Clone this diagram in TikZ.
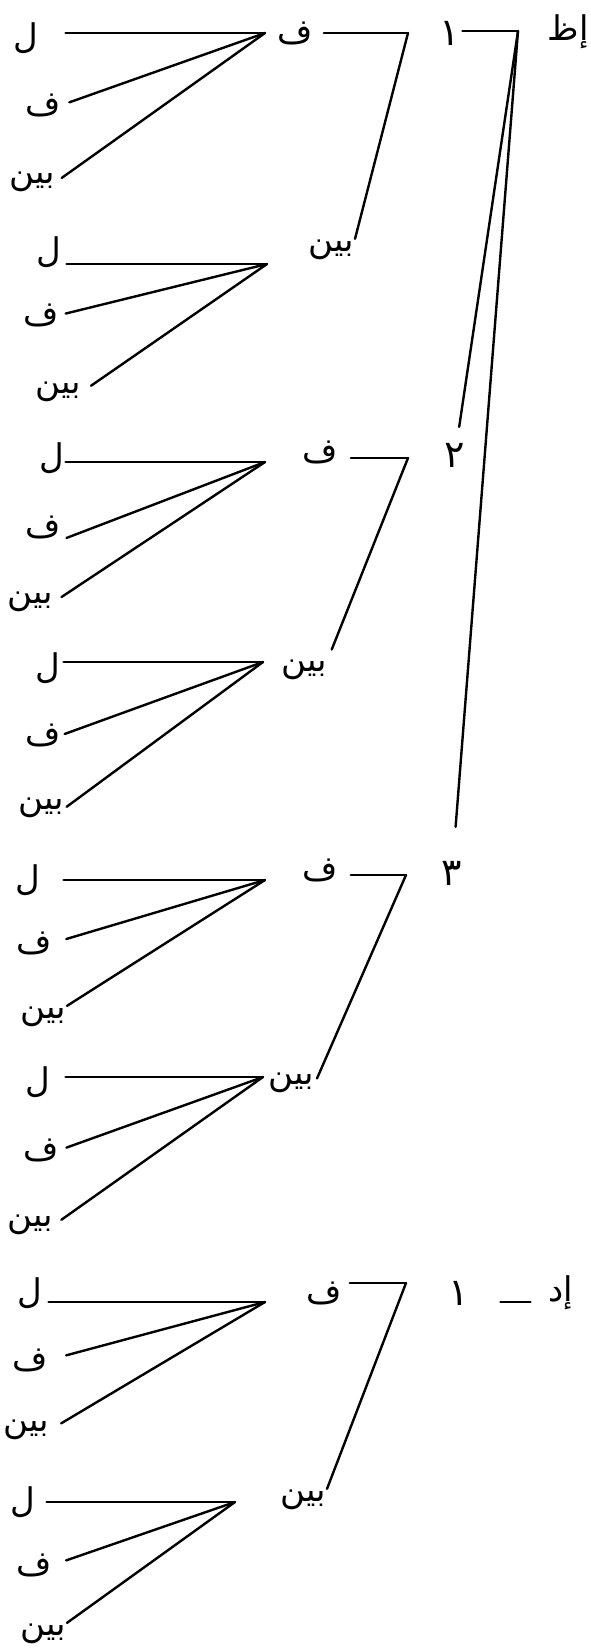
\documentclass[tikz,border=0pt]{standalone}
\usepackage{fontspec}
\newfontfamily\arabicfont[Script=Arabic]{DejaVu Sans}
\TeXXeTstate=1
\newcommand\ar[1]{\beginR#1\endR}
\tikzset{
  lab/.style={font=\arabicfont\fontsize{34}{38}\selectfont, inner sep=1pt},
  num/.style={font=\arabicfont\fontsize{38}{42}\selectfont, inner sep=1pt},
  ln/.style={line width=2.4pt, line cap=round, line join=round}
}
\begin{document}
\begin{tikzpicture}[x=1pt,y=-1pt]
\useasboundingbox (0,0) rectangle (590,1652);
% ---------- top level labels ----------
\node[lab] (E1) at (568,32) {\ar{إظ}};
\node[num] (N1) at (450,33) {\ar{١}};
\node[num] (N2) at (455,455) {\ar{٢}};
\node[num] (N3) at (452,873) {\ar{٣}};
\coordinate (c1) at (518,31);
\draw[ln, shorten <=1pt] (N1.east |- c1) -- (c1);
\draw[ln, shorten >=15pt] (c1) -- (N2);
\draw[ln, shorten >=33pt] (c1) -- (N3);

\node[num] (N4) at (459,1293) {\ar{١}};
\node[lab] (E4) at (561,1293) {\ar{إد}};
\draw[ln, shorten <=30pt, shorten >=17pt] ([yshift=-9pt]N4.east) -- ([yshift=-9pt]E4.west);

% ---------- group 1 ----------
\node[lab] (F1) at (295,33) {\ar{ف}};
\node[lab] (B1) at (331,250) {\ar{بين}};
\coordinate (k1) at (408,33);
\draw[ln, shorten <=10pt] (F1.east |- k1) -- (k1);
\draw[ln] (k1) -- (B1.north east);

\coordinate (j1a) at (265,33);
\node[lab] (L1a) at (26,38) {\ar{ل}};
\node[lab] (F1a) at (43,105) {\ar{ف}};
\node[lab] (B1a) at (32,182) {\ar{بين}};
\draw[ln, shorten <=26pt] (L1a.east |- j1a) -- (j1a);
\draw[ln, shorten <=8pt] (F1a.east) -- (j1a);
\draw[ln, shorten <=7pt] (B1a.east) -- (j1a);

\coordinate (j1b) at (267,264);
\node[lab] (L1b) at (49,252) {\ar{ل}};
\node[lab] (F1b) at (41,315) {\ar{ف}};
\node[lab] (B1b) at (58,392) {\ar{بين}};
\draw[ln, shorten <=4pt] (L1b.east |- j1b) -- (j1b);
\draw[ln, shorten <=6pt] (F1b.east) -- (j1b);
\draw[ln, shorten <=11pt] (B1b.east) -- (j1b);

% ---------- group 2 ----------
\node[lab] (F2) at (320,452) {\ar{ف}};
\node[lab] (B2) at (304,670) {\ar{بين}};
\coordinate (k2) at (408,458);
\draw[ln, shorten <=12pt] (F2.east |- k2) -- (k2);
\draw[ln, shorten >=10pt] (k2) -- (B2.north east);

\coordinate (j2a) at (265,462);
\node[lab] (L2a) at (52,458) {\ar{ل}};
\node[lab] (F2a) at (43,527) {\ar{ف}};
\node[lab] (B2a) at (30,602) {\ar{بين}};
\draw[ln] (L2a.east |- j2a) -- (j2a);
\draw[ln, shorten <=5pt] (F2a.south east) -- (j2a);
\draw[ln, shorten <=9pt] (B2a.east) -- (j2a);

\coordinate (j2b) at (263,662);
\node[lab] (L2b) at (48,668) {\ar{ل}};
\node[lab] (F2b) at (43,735) {\ar{ف}};
\node[lab] (B2b) at (41,808) {\ar{بين}};
\draw[ln, shorten <=2pt] (L2b.east |- j2b) -- (j2b);
\draw[ln, shorten <=3pt] (F2b.east) -- (j2b);
\draw[ln, shorten <=2pt] (B2b.east) -- (j2b);

% ---------- group 3 ----------
\node[lab] (F3) at (320,870) {\ar{ف}};
\node[lab] (B3) at (291,1083) {\ar{بين}};
\coordinate (k3) at (406,875);
\draw[ln, shorten <=12pt] (F3.east |- k3) -- (k3);
\draw[ln, shorten >=5pt] (k3) -- (B3.east);

\coordinate (j3a) at (265,880);
\node[lab] (L3a) at (28,880) {\ar{ل}};
\node[lab] (F3a) at (34,943) {\ar{ف}};
\node[lab] (B3a) at (43,1017) {\ar{بين}};
\draw[ln, shorten <=22pt] (L3a.east |- j3a) -- (j3a);
\draw[ln, shorten <=14pt] (F3a.east) -- (j3a);
\draw[ln] (B3a.north east) -- (j3a);

\coordinate (j3b) at (263,1077);
\node[lab] (L3b) at (38,1082) {\ar{ل}};
\node[lab] (F3b) at (41,1150) {\ar{ف}};
\node[lab] (B3b) at (30,1225) {\ar{بين}};
\draw[ln, shorten <=14pt] (L3b.east |- j3b) -- (j3b);
\draw[ln, shorten <=7pt] (F3b.east) -- (j3b);
\draw[ln, shorten <=9pt] (B3b.east) -- (j3b);

% ---------- group 4 ----------
\node[lab] (F4) at (324,1293) {\ar{ف}};
\node[lab] (B4) at (303,1500) {\ar{بين}};
\coordinate (k4) at (406,1283);
\draw[ln, shorten <=7pt] (F4.east |- k4) -- (k4);
\draw[ln] (k4) -- (B4.north east);

\coordinate (j4a) at (265,1302);
\node[lab] (L4a) at (30,1293) {\ar{ل}};
\node[lab] (F4a) at (30,1360) {\ar{ف}};
\node[lab] (B4a) at (26,1430) {\ar{بين}};
\draw[ln, shorten <=5pt] (L4a.east |- j4a) -- (j4a);
\draw[ln, shorten <=18pt] (F4a.east) -- (j4a);
\draw[ln, shorten <=13pt] (B4a.east) -- (j4a);

\coordinate (j4b) at (235,1502);
\node[lab] (L4b) at (23,1502) {\ar{ل}};
\node[lab] (F4b) at (34,1565) {\ar{ف}};
\node[lab] (B4b) at (43,1634) {\ar{بين}};
\draw[ln, shorten <=10pt] (L4b.east |- j4b) -- (j4b);
\draw[ln, shorten <=14pt] (F4b.east) -- (j4b);
\draw[ln] (B4b.north east) -- (j4b);
\end{tikzpicture}
\end{document}
